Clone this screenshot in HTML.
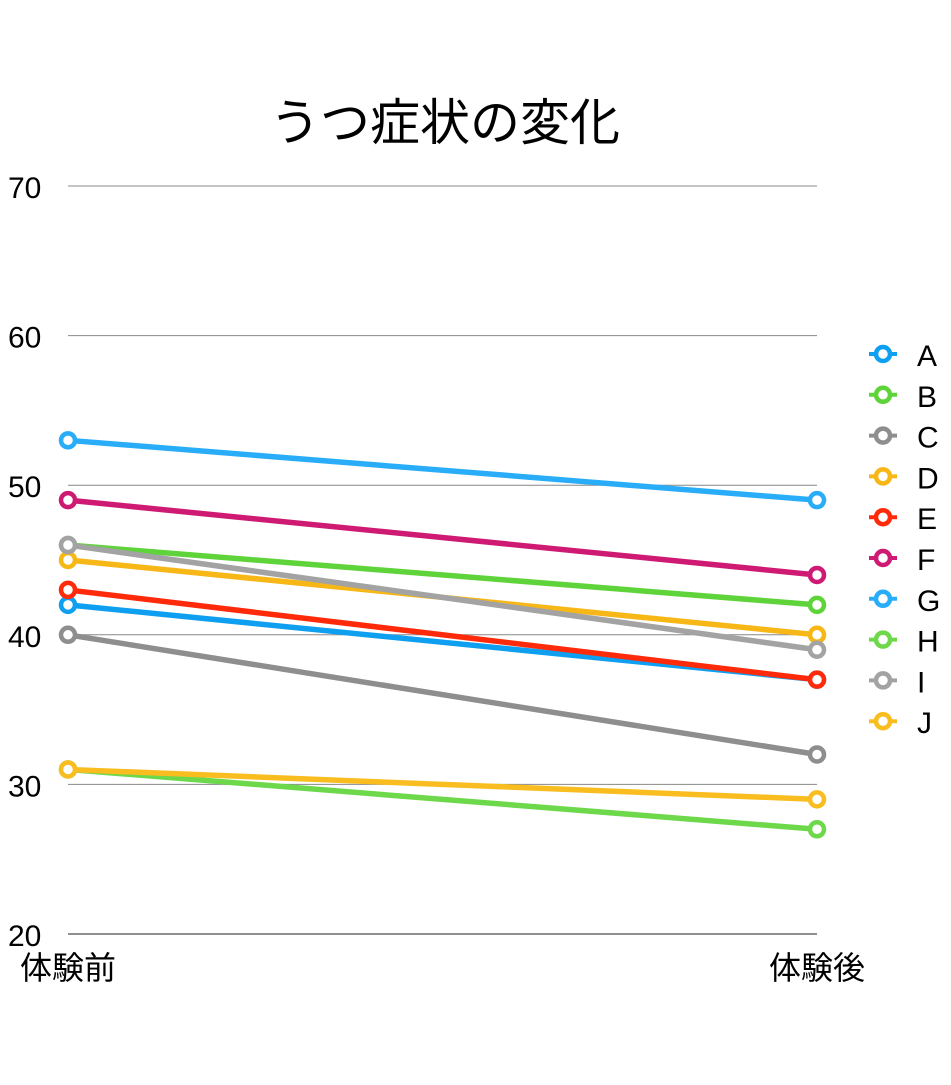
<!DOCTYPE html>
<html><head><meta charset="utf-8"><style>
body{margin:0;background:#fff}
text{font-family:"Liberation Sans","Noto Sans CJK JP",sans-serif;fill:#000}
</style></head><body>
<svg width="951" height="1080" viewBox="0 0 951 1080">
<rect width="951" height="1080" fill="#fff"/>
<text x="445" y="140" font-size="50" text-anchor="middle">うつ症状の変化</text>
<g id="grid"></g><g id="lines"></g><g id="legend"></g>
</svg>
<script>
const categories=["体験前","体験後"];
const seriesNames=["A","B","C","D","E","F","G","H","I","J"];
const before=[42,46,40,45,43,49,53,31,46,31];
const after=[37,42,32,40,37,44,49,27,39,29];
const yTicks=[20,30,40,50,60,70];
const colors=["#0f9ff0","#5fd33a","#8e8e8e","#f7b716","#fe2a0a","#cf1a74","#2aadf8","#6cd84a","#a3a3a3","#f9bd20"];
const NS="http://www.w3.org/2000/svg";
const y=v=>934-(v-20)*(748/50);
const x=i=>68+i*749;
function mk(t,a,p){const e=document.createElementNS(NS,t);for(const k in a)e.setAttribute(k,a[k]);document.getElementById(p).appendChild(e);return e;}
yTicks.forEach(v=>{
 const l=mk("line",{x1:68,x2:817,y1:y(v),y2:y(v),stroke:v===20?"#222":"#888","stroke-width":1},"grid");
 
 
 const t=mk("text",{x:8,y:y(v)+12,"font-size":30},"grid");t.textContent=v;
 
 
});
categories.forEach((c,i)=>{
 const t=mk("text",{x:x(i),y:979,"font-size":32,"text-anchor":"middle"},"grid");t.textContent=c;
 
 
});
seriesNames.forEach((n,i)=>{
 const l=mk("line",{x1:x(0),y1:y(before[i]),x2:x(1),y2:y(after[i]),stroke:colors[i],"stroke-width":5.5},"lines");
 
 
 [before[i],after[i]].forEach((v,j)=>{
  const c=mk("circle",{cx:x(j),cy:y(v),r:7,fill:"#fff",stroke:colors[i],"stroke-width":4.5},"lines");
  
  
 });
 const ly=354+i*40.8;
 const ll=mk("line",{x1:869,x2:897,y1:ly,y2:ly,stroke:colors[i],"stroke-width":4},"legend");
 
 
 const lc=mk("circle",{cx:883,cy:ly,r:7,fill:"#fff",stroke:colors[i],"stroke-width":4.5},"legend");
 
 
 const lt=mk("text",{x:917,y:ly+12,"font-size":30},"legend");lt.textContent=n;
 
 
});
</script>
</body></html>
